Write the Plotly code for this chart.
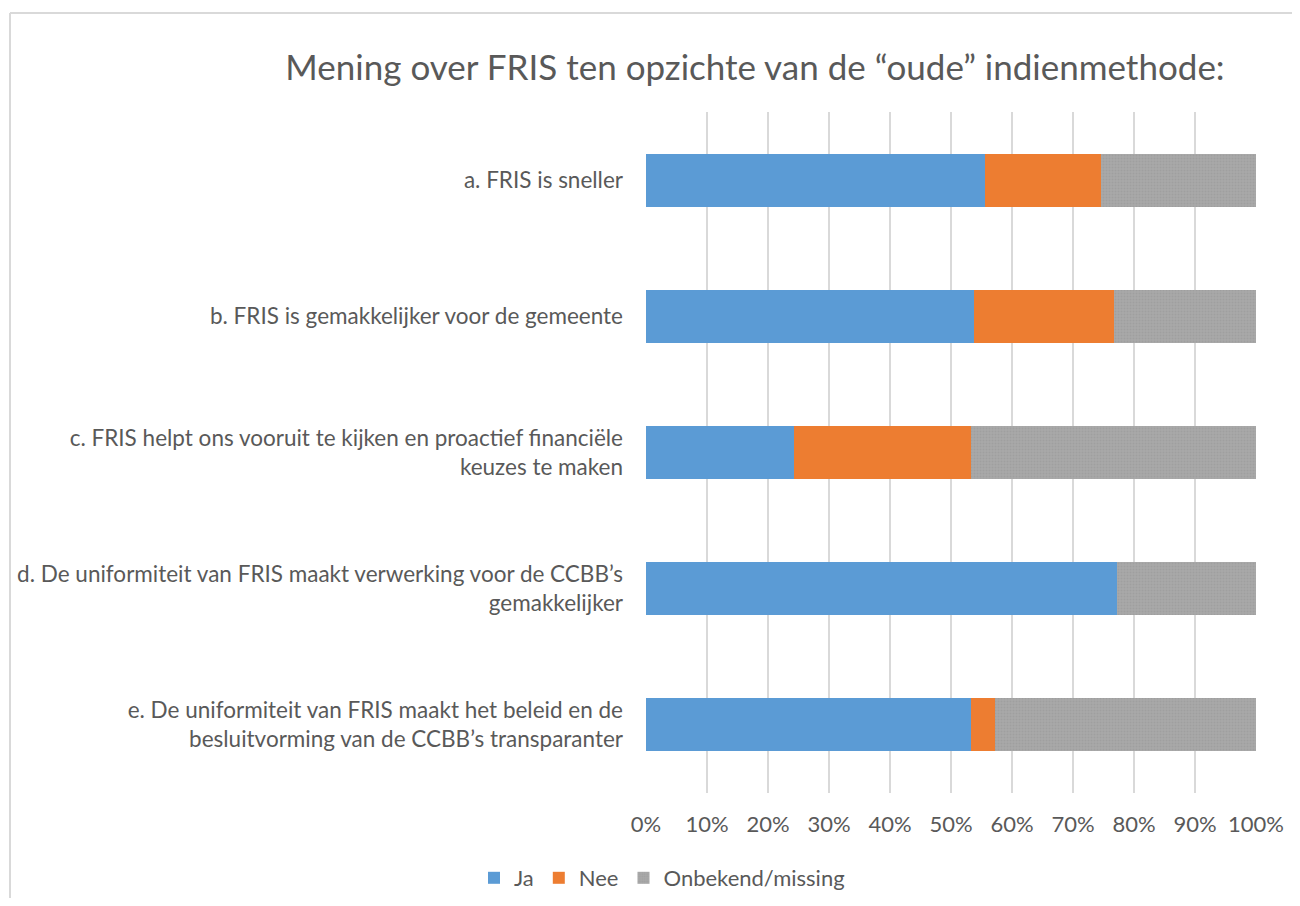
import plotly.graph_objects as go

categories = [
    "a. FRIS is sneller",
    "b. FRIS is gemakkelijker voor de gemeente",
    "c. FRIS helpt ons vooruit te kijken en proactief financiële<br>keuzes te maken",
    "d. De uniformiteit van FRIS maakt verwerking voor de CCBB’s<br>gemakkelijker",
    "e. De uniformiteit van FRIS maakt het beleid en de<br>besluitvorming van de CCBB’s transparanter",
]
ja = [55.6, 53.8, 24.2, 77.2, 53.2]
nee = [19.0, 22.9, 29.0, 0.0, 4.0]
onbekend = [25.4, 23.3, 46.8, 22.8, 42.8]
tick_vals = [0, 10, 20, 30, 40, 50, 60, 70, 80, 90, 100]
tick_labels = ["0%", "10%", "20%", "30%", "40%", "50%", "60%", "70%", "80%", "90%", "100%"]

FONT = "Lato"
GRAY_TXT = "#595959"

fig = go.Figure()
fig.add_trace(go.Bar(y=categories, x=ja, name="Ja", orientation="h",
                     marker=dict(color="#5B9BD5", line=dict(width=0))))
fig.add_trace(go.Bar(y=categories, x=nee, name="Nee", orientation="h",
                     marker=dict(color="#ED7D31", line=dict(width=0))))
fig.add_trace(go.Bar(y=categories, x=onbekend, name="Onbekend/missing", orientation="h",
                     marker=dict(color="#A5A5A5", line=dict(width=0),
                                 pattern=dict(shape=".", fgcolor="#959595", bgcolor="#A9A9A9",
                                              size=3, solidity=0.4))))

OFF = 8  # page body margin
W, H = 1300 - 2 * OFF, 906 - 2 * OFF
L, R, T, B = 646 - OFF, 1256 - OFF, 112 - OFF, 793 - OFF

def px(x):
    return (x - OFF - L) / (R - L)

def py(y):
    return (B - (y - OFF)) / (B - T)

fig.update_layout(
    width=W, height=H,
    barmode="stack", bargap=0.61,
    plot_bgcolor="white", paper_bgcolor="white",
    margin=dict(l=L, r=W - R, t=T, b=H - B, pad=0, autoexpand=False),
    font=dict(family=FONT, color=GRAY_TXT, size=22),
    title=dict(text="Mening over FRIS ten opzichte van de “oude” indienmethode:",
               x=(755 - OFF) / W, xanchor="center", y=1 - (68 - OFF) / H, yanchor="middle",
               font=dict(family=FONT, size=35, color=GRAY_TXT)),
    legend=dict(orientation="h", x=px(662), xanchor="center", y=py(878), yanchor="middle",
                font=dict(size=22, color=GRAY_TXT), traceorder="normal",
                itemwidth=30, itemsizing="constant"),
    xaxis=dict(range=[0, 100], tickmode="array", tickvals=tick_vals, ticktext=tick_labels,
               showgrid=True, gridcolor="#D9D9D9", gridwidth=1.5,
               zeroline=False, showline=False, ticks="", ticklabelstandoff=16,
               tickfont=dict(size=22, color=GRAY_TXT), fixedrange=True),
    yaxis=dict(autorange="reversed", showgrid=False, showline=False, ticks="",
               ticklabelstandoff=22, tickfont=dict(size=22.5, color=GRAY_TXT)),
    shapes=[
        dict(type="line", xref="paper", yref="paper", x0=px(10), x1=px(10), y0=py(13), y1=py(906),
             line=dict(color="#D9D9D9", width=2)),
        dict(type="line", xref="paper", yref="paper", x0=px(10), x1=px(1300), y0=py(13), y1=py(13),
             line=dict(color="#D9D9D9", width=2)),
    ],
)

fig.write_html("out.html")
